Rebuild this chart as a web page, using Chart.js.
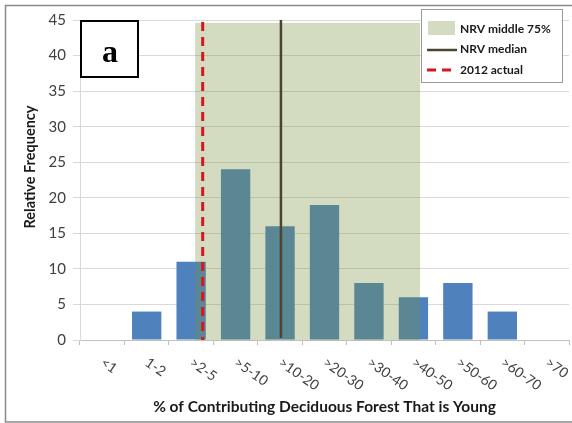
<!DOCTYPE html>
<html>
<head>
<meta charset="utf-8">
<title>Young deciduous forest</title>
<script src="https://cdn.jsdelivr.net/npm/chart.js@4.4.1/dist/chart.umd.min.js"></script>
<style>
  html, body { margin: 0; padding: 0; background: #fff; }
  #wrap { width: 572px; height: 423px; position: relative; }
</style>
</head>
<body>
<div id="wrap"><canvas id="chart"></canvas></div>
<script>
// histogram classes and counts
const categories = ["<1", "1-2", ">2-5", ">5-10", ">10-20", ">20-30", ">30-40", ">40-50", ">50-60", ">60-70", ">70"];
const frequency = [0, 4, 11, 24, 16, 19, 8, 6, 8, 4, 0];

// reference markers, in category positions along x
const nrvMiddle75 = [2.09, 7.15];
const nrvTop = 44.6;
const nrvMedian = 4.02;
const actual2012 = 2.26;

const legendLabels = ["NRV middle 75%", "NRV median", "2012 actual"];
const xTitle = "% of Contributing Deciduous Forest That is Young";
const yTitle = "Relative Frequency";
const panelLetter = "a";

const BLUE = "#4F81BD";
const NRV_FILL = "rgba(119,147,60,0.32)";
const MEDIAN = "#4A4530";
const RED = "#D7171F";

const overlays = {
  id: "overlays",
  beforeDraw(chart) {
    const ctx = chart.ctx;
    ctx.save();
    ctx.fillStyle = "#fff";
    ctx.fillRect(0, 0, chart.width, chart.height);
    ctx.strokeStyle = "#8a8a8a";
    ctx.lineWidth = 1.5;
    ctx.strokeRect(5.5, 5.5, chart.width + 10, chart.height - 6.5);
    ctx.restore();
  },
  afterDatasetsDraw(chart) {
    const ctx = chart.ctx;
    const x = chart.scales.x, y = chart.scales.y;
    const area = chart.chartArea;
    ctx.save();

    // NRV middle 75% band
    const x0 = x.getPixelForValue(nrvMiddle75[0]);
    const x1 = x.getPixelForValue(nrvMiddle75[1]);
    const yt = y.getPixelForValue(nrvTop);
    ctx.fillStyle = NRV_FILL;
    ctx.fillRect(x0, yt, x1 - x0, y.getPixelForValue(0) - yt);

    // NRV median
    const xm = x.getPixelForValue(nrvMedian);
    ctx.strokeStyle = MEDIAN;
    ctx.lineWidth = 2.5;
    ctx.beginPath();
    ctx.moveTo(xm, area.top);
    ctx.lineTo(xm, y.getPixelForValue(0) - 2);
    ctx.stroke();

    // 2012 actual
    const xa = x.getPixelForValue(actual2012);
    ctx.strokeStyle = RED;
    ctx.lineWidth = 3;
    ctx.setLineDash([9, 6]);
    ctx.beginPath();
    ctx.moveTo(xa, area.top + 2);
    ctx.lineTo(xa, area.bottom);
    ctx.stroke();
    ctx.setLineDash([]);

    // x category labels, slanted down to the right
    ctx.fillStyle = "#404040";
    ctx.font = "14px Lato";
    ctx.textAlign = "left";
    ctx.textBaseline = "middle";
    categories.forEach((c, i) => {
      const px = x.getPixelForValue(i);
      ctx.save();
      ctx.translate(px, area.bottom + 21);
      ctx.rotate(35 * Math.PI / 180);
      ctx.fillText(c, 0, 0);
      ctx.restore();
    });

    // axis titles
    ctx.fillStyle = "#1a1a1a";
    ctx.font = "bold 15.5px Lato";
    ctx.textAlign = "center";
    ctx.fillText(xTitle, (area.left + area.right) / 2, 407);
    ctx.font = "bold 14.5px Lato";
    ctx.save();
    ctx.translate(30, 167);
    ctx.rotate(-Math.PI / 2);
    ctx.fillText(yTitle, 0, 0);
    ctx.restore();

    // panel letter box
    ctx.fillStyle = "#fff";
    ctx.fillRect(81, 21, 57, 56);
    ctx.strokeStyle = "#000";
    ctx.lineWidth = 2;
    ctx.strokeRect(81, 21, 57, 56);
    ctx.fillStyle = "#000";
    ctx.font = "bold 32px 'Liberation Serif'";
    ctx.textAlign = "center";
    ctx.textBaseline = "alphabetic";
    ctx.fillText(panelLetter, 110, 62);

    // legend
    ctx.fillStyle = "#fff";
    ctx.fillRect(421, 9.5, 141, 73);
    ctx.strokeStyle = "#9a9a9a";
    ctx.lineWidth = 1;
    ctx.strokeRect(421.5, 9.5, 141, 73);
    ctx.fillStyle = NRV_FILL;
    ctx.fillRect(428, 21, 27, 14);
    ctx.strokeStyle = MEDIAN;
    ctx.lineWidth = 2.5;
    ctx.beginPath();
    ctx.moveTo(427, 50);
    ctx.lineTo(457, 50);
    ctx.stroke();
    ctx.strokeStyle = RED;
    ctx.lineWidth = 3;
    ctx.setLineDash([9, 6]);
    ctx.beginPath();
    ctx.moveTo(427, 70);
    ctx.lineTo(457, 70);
    ctx.stroke();
    ctx.setLineDash([]);
    ctx.fillStyle = "#1a1a1a";
    ctx.font = "bold 12px Lato";
    ctx.textAlign = "left";
    ctx.textBaseline = "middle";
    legendLabels.forEach((t, i) => ctx.fillText(t, 460, 29 + i * 20.5));

    ctx.restore();
  }
};

new Chart(document.getElementById("chart"), {
  type: "bar",
  data: {
    labels: categories,
    datasets: [{
      label: "Frequency",
      data: frequency,
      backgroundColor: BLUE,
      barPercentage: 0.66,
      categoryPercentage: 1
    }]
  },
  options: {
    responsive: true,
    maintainAspectRatio: false,
    animation: false,
    layout: { padding: { top: 20, right: 3, left: 0, bottom: 0 } },
    plugins: { legend: { display: false }, tooltip: { enabled: false } },
    scales: {
      x: {
        grid: { offset: true, drawOnChartArea: false, tickLength: 5, color: "#bfbfbf" },
        border: { color: "#bfbfbf" },
        ticks: { display: false },
        afterFit: (s) => { s.height = 83; }
      },
      y: {
        min: 0,
        max: 45,
        ticks: { stepSize: 5, color: "#404040", font: { family: "Lato", size: 15 }, padding: 7 },
        grid: { color: "#d9d9d9", tickLength: 7 },
        border: { color: "#d9d9d9" },
        afterFit: (s) => { s.width = 80; }
      }
    }
  },
  plugins: [overlays]
});
</script>
</body>
</html>
